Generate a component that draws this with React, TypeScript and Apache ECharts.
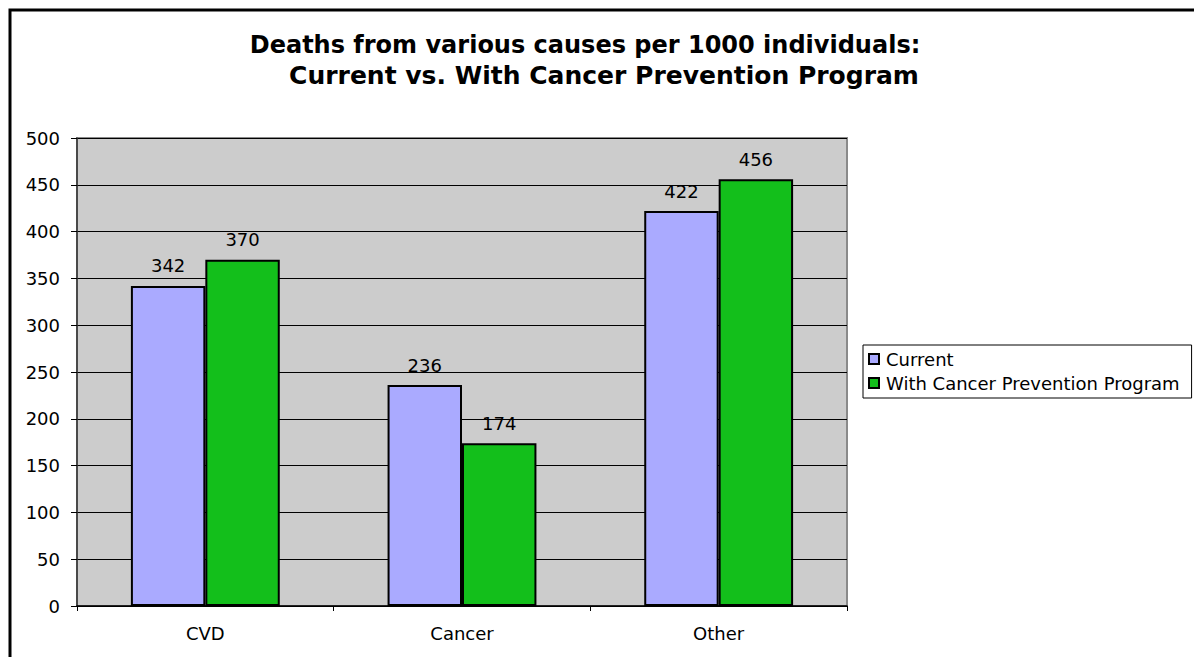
import React, { useEffect, useRef } from "react";
import * as echarts from "echarts";

const categories = ["CVD", "Cancer", "Other"];
const currentValues = [342, 236, 422];
const preventionValues = [370, 174, 456];
const seriesNames = ["Current", "With Cancer Prevention Program"];
const titleLines = [
  "Deaths from various causes per 1000 individuals:",
  "Current vs. With Cancer Prevention Program",
];

const FONT = "'DejaVu Sans', Verdana, sans-serif";

export default function App() {
  const ref = useRef<HTMLDivElement>(null);
  useEffect(() => {
    document.body.style.margin = "0";
    const chart = echarts.init(ref.current!, null, { renderer: "svg" });
    const labelStyle = {
      show: true,
      position: "top" as const,
      distance: 11,
      fontSize: 18,
      color: "#000",
      fontFamily: FONT,
    };
    chart.setOption({
      animation: false,
      backgroundColor: "#fff",
      textStyle: { fontFamily: FONT },
      graphic: [
        {
          type: "rect",
          shape: { x: 10, y: 10, width: 1200, height: 700 },
          style: { fill: "none", stroke: "#000", lineWidth: 3 },
          silent: true,
        },
        {
          type: "text",
          x: 585,
          y: 45,
          style: {
            text: titleLines[0],
            font: `bold 24px ${FONT}`,
            fill: "#000",
            align: "center",
            verticalAlign: "middle",
          },
        },
        {
          type: "text",
          x: 604,
          y: 75,
          style: {
            text: titleLines[1],
            font: `bold 25px ${FONT}`,
            fill: "#000",
            align: "center",
            verticalAlign: "middle",
          },
        },
      ],
      legend: {
        orient: "vertical",
        left: 863,
        top: 345,
        padding: [5, 12, 6, 5],
        itemGap: 6,
        itemWidth: 10,
        itemHeight: 10,
        borderColor: "#000",
        borderWidth: 1,
        textStyle: { fontSize: 18, color: "#000", fontFamily: FONT, padding: [0, 0, 0, 2] },
        data: seriesNames.map((n) => ({ name: n, icon: "rect" })),
      },
      grid: {
        left: 77,
        top: 138,
        right: 347,
        bottom: 51,
        show: true,
        backgroundColor: "#CCCCCC",
        borderColor: "#8a8a8a",
        borderWidth: 2,
      },
      xAxis: {
        type: "category",
        data: categories,
        axisLine: { lineStyle: { color: "#000", width: 1.5 } },
        axisTick: { show: true, length: 5, lineStyle: { color: "#000" } },
        axisLabel: { fontSize: 18, color: "#000", margin: 18, fontFamily: FONT },
      },
      yAxis: {
        type: "value",
        min: 0,
        max: 500,
        interval: 50,
        axisLine: { show: true, lineStyle: { color: "#333", width: 1.5 } },
        axisTick: { show: true, length: 6, lineStyle: { color: "#000" } },
        axisLabel: { fontSize: 18, color: "#000", margin: 17, fontFamily: FONT },
        splitLine: { lineStyle: { color: "#000", width: 1 } },
      },
      series: [
        {
          name: seriesNames[0],
          type: "bar",
          data: currentValues,
          barWidth: "29%",
          barGap: "0%",
          itemStyle: { color: "#AAAAFF", borderColor: "#000", borderWidth: 2 },
          label: labelStyle,
        },
        {
          name: seriesNames[1],
          type: "bar",
          data: preventionValues,
          barWidth: "29%",
          barGap: "0%",
          itemStyle: { color: "#13BF1B", borderColor: "#000", borderWidth: 2 },
          label: labelStyle,
        },
      ],
    });
    return () => chart.dispose();
  }, []);
  return <div ref={ref} style={{ width: 1194, height: 657 }} />;
}
